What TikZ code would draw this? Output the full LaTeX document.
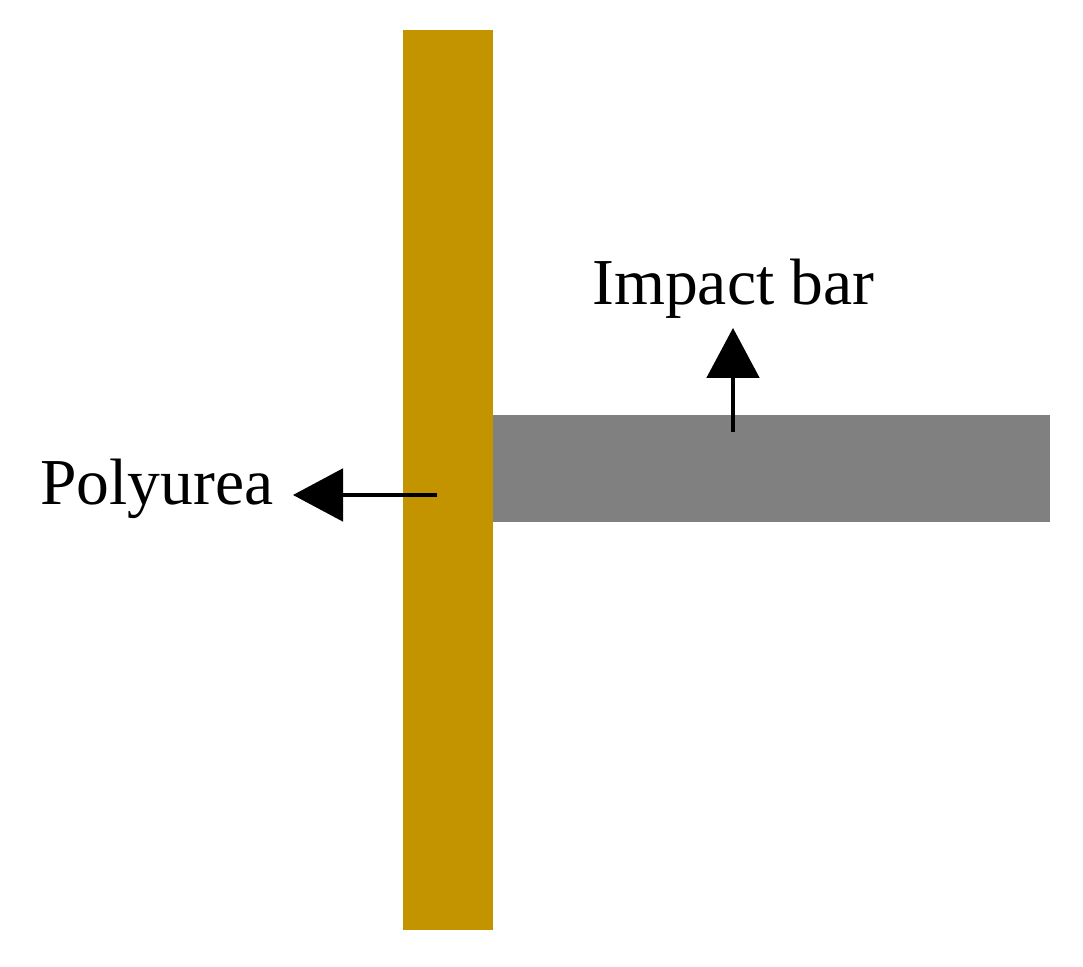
\documentclass[tikz,border=0pt]{standalone}
\usepackage{fontspec}
\setmainfont{Liberation Serif}
\usetikzlibrary{arrows.meta}
\definecolor{polycolor}{RGB}{196,148,0}
\definecolor{barcolor}{RGB}{128,128,128}

\begin{document}
\begin{tikzpicture}[
  label text/.style={font=\fontsize{37.3}{42}\selectfont,inner sep=0pt,anchor=base west},
  pointer/.style={line width=2pt,-{Triangle[length=10mm,width=10.5mm]}}
]
\useasboundingbox (0,0) rectangle (21.66,19.32);
\fill[barcolor] (9.80,8.88) rectangle (21.0,11.02);
\fill[polycolor] (8.06,0.72) rectangle (9.86,18.72);
\node[label text] (impact) at (11.84,13.22) {Impact bar};
\node[label text] (poly) at (0.80,9.22) {Polyurea};
\coordinate (impacttail) at (14.66,10.68);
\coordinate (impacttip) at (14.66,12.76);
\coordinate (polytail) at (8.74,9.42);
\coordinate (polytip) at (5.86,9.42);
\draw[pointer] (impacttail) -- (impacttip);
\draw[pointer] (polytail) -- (polytip);
\end{tikzpicture}
\end{document}
